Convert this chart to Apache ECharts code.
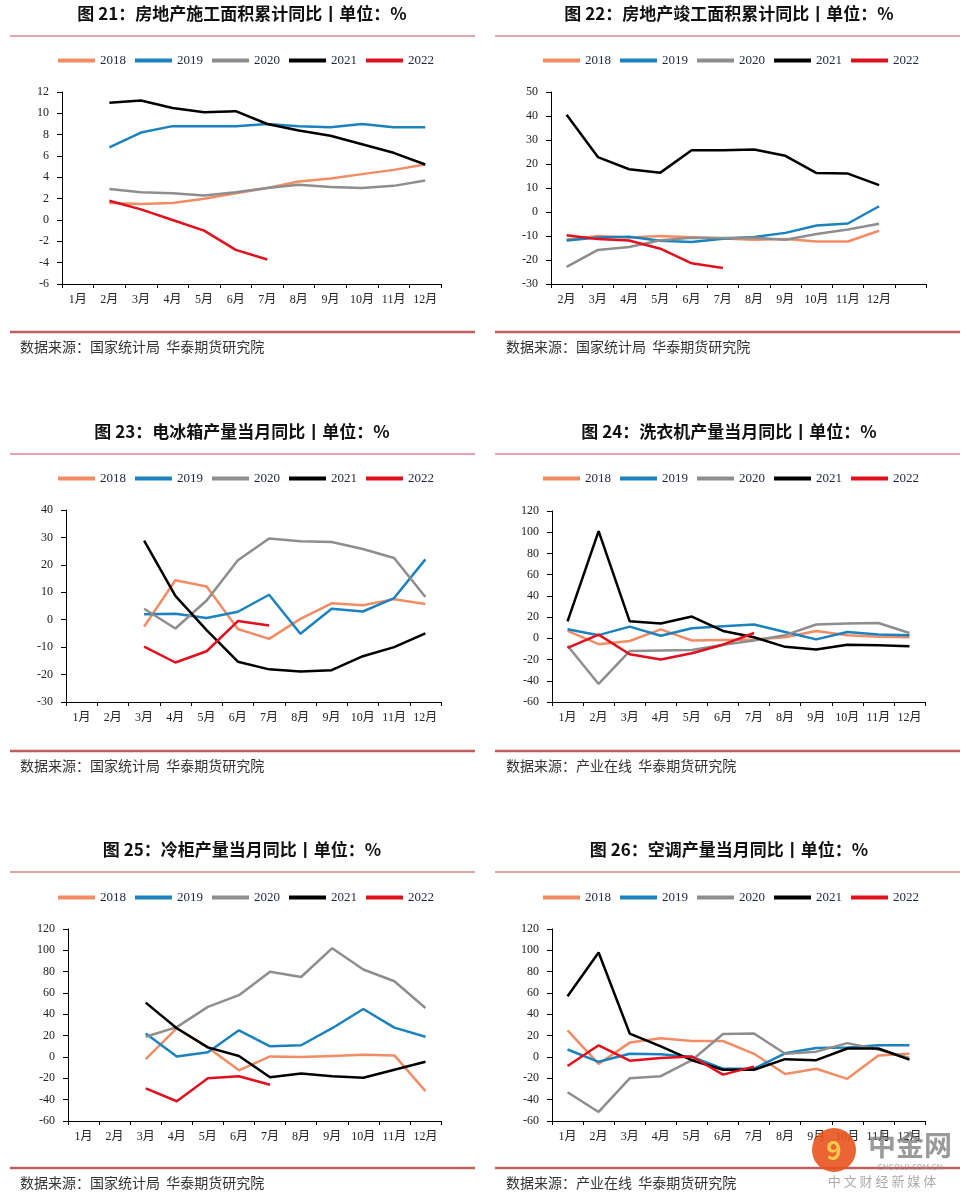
<!DOCTYPE html>
<html>
<head>
<meta charset="utf-8">
<script src="https://cdn.jsdelivr.net/npm/echarts@6/dist/echarts.min.js"></script>
<style>
  html, body { margin: 0; padding: 0; background: #fff; }
  #main { width: 968px; height: 1199px; }
</style>
</head>
<body>
<div id="main"></div>
<script>
// category labels
const months = ['1月', '2月', '3月', '4月', '5月', '6月', '7月', '8月', '9月', '10月', '11月', '12月']
const monthsFeb = ['2月', '3月', '4月', '5月', '6月', '7月', '8月', '9月', '10月', '11月', '12月', '']
const years = ['2018', '2019', '2020', '2021', '2022']

// 图21 房地产施工面积累计同比
const fig21_2018 = [null, 1.6, 1.5, 1.6, 2.0, 2.5, 3.0, 3.6, 3.9, 4.3, 4.7, 5.2]
const fig21_2019 = [null, 6.8, 8.2, 8.8, 8.8, 8.8, 9.0, 8.8, 8.7, 9.0, 8.7, 8.7]
const fig21_2020 = [null, 2.9, 2.6, 2.5, 2.3, 2.6, 3.0, 3.3, 3.1, 3.0, 3.2, 3.7]
const fig21_2021 = [null, 11.0, 11.2, 10.5, 10.1, 10.2, 9.0, 8.4, 7.9, 7.1, 6.3, 5.2]
const fig21_2022 = [null, 1.8, 1.0, 0.0, -1.0, -2.8, -3.7]

// 图22 房地产竣工面积累计同比 (2月起)
const fig22_2018 = [-11.5, -10.0, -10.6, -10.0, -10.5, -11.0, -11.6, -11.3, -12.3, -12.3, -7.8]
const fig22_2019 = [-11.9, -10.6, -10.3, -12.0, -12.5, -11.1, -10.4, -8.7, -5.6, -4.8, 2.4]
const fig22_2020 = [-22.9, -15.8, -14.6, -11.8, -10.7, -10.8, -10.7, -11.6, -9.2, -7.3, -4.9]
const fig22_2021 = [40.5, 22.9, 17.8, 16.4, 25.7, 25.7, 26.0, 23.4, 16.2, 16.0, 11.2]
const fig22_2022 = [-9.7, -11.3, -11.9, -15.3, -21.4, -23.3]

// 图23 电冰箱产量当月同比
const fig23_2018 = [null, null, -2.5, 14.4, 12.1, -3.4, -7.0, 0.3, 6.0, 5.3, 7.5, 5.7]
const fig23_2019 = [null, null, 2.0, 2.2, 0.6, 2.9, 9.1, -5.1, 4.0, 3.0, 7.9, 22.0]
const fig23_2020 = [null, null, 4.0, -3.2, 7.0, 21.7, 29.6, 28.6, 28.3, 25.8, 22.5, 8.3]
const fig23_2021 = [null, null, 28.8, 8.7, -3.8, -15.3, -18.1, -18.9, -18.4, -13.3, -10.0, -5.0]
const fig23_2022 = [null, null, -9.8, -15.6, -11.5, -0.5, -2.1]

// 图24 洗衣机产量当月同比
const fig24_2018 = [7, -5.5, -2.5, 8.5, -2, -1.5, -1, 1, 7, 3, 1.5, 1]
const fig24_2019 = [8.5, 3, 11, 2.5, 9.5, 11.5, 13, 6, -1, 6, 3.5, 3]
const fig24_2020 = [-7, -43, -12, -11.5, -11, -6, -2, 3, 13, 14, 14.5, 5]
const fig24_2021 = [16, 101, 16, 14, 20.5, 7, 1, -8, -10.5, -6, -6.5, -7.5]
const fig24_2022 = [-9, 3.5, -15, -20, -14, -6, 5]

// 图25 冷柜产量当月同比
const fig25_2018 = [null, null, -2, 27, 9, -12.5, 0.5, 0, 1, 2, 1.5, -32]
const fig25_2019 = [null, null, 22, 0.5, 4.5, 25, 10, 11, 27, 45, 27.5, 19]
const fig25_2020 = [null, null, 19, 28, 47, 58, 80, 75, 102, 82, 71, 46]
const fig25_2021 = [null, null, 51, 27, 9, 1, -19, -15.5, -18, -19.5, -12, -4.5]
const fig25_2022 = [null, null, -29.5, -41.5, -20, -18, -26]

// 图26 空调产量当月同比
const fig26_2018 = [25, -6.5, 13.5, 17.5, 15, 15, 3, -16, -11, -20.5, 1.5, 3]
const fig26_2019 = [7, -4.5, 3, 2.5, 0, -11, -11, 3.5, 8.5, 9, 11, 11]
const fig26_2020 = [-33, -51.5, -20, -18, -3, 21.5, 22, 3, 5, 13, 7, -1]
const fig26_2021 = [57, 98, 22, 10, -3, -12, -12, -2, -3, 8, 8, -2.5]
const fig26_2022 = [-8.5, 11, -3.5, -1, 0.5, -16.5, -9]

const yearColors = ['#F28C64', '#1A82BE', '#8E8E8E', '#000000', '#E0101E']
const serifFont = "'Liberation Serif', 'Noto Sans CJK SC', serif"
const cjkFont = "'Noto Sans CJK SC', sans-serif"

// layout of the 2x3 panels
const cols = [
  { x0: 10, x1: 475, cx: 242, legendX: 58, srcX: 20 },
  { x0: 495, x1: 960, cx: 729, legendX: 543, srcX: 506 }
]
const rows = [
  { titleY: 14, sepTop: 36, legendY: 60, sepBot: 332, srcY: 347 },
  { titleY: 432, sepTop: 454, legendY: 478, sepBot: 751, srcY: 766 },
  { titleY: 850, sepTop: 872, legendY: 897, sepBot: 1168, srcY: 1183 }
]

const panels = [
  { col: 0, row: 0, title: '图 21：房地产施工面积累计同比丨单位：%', source: '数据来源：国家统计局  华泰期货研究院',
    cats: months, data: [fig21_2018, fig21_2019, fig21_2020, fig21_2021, fig21_2022],
    yMin: -6, yMax: 12, yStep: 2, grid: { left: 62, top: 92, width: 379, height: 192 } },
  { col: 1, row: 0, title: '图 22：房地产竣工面积累计同比丨单位：%', source: '数据来源：国家统计局  华泰期货研究院',
    cats: monthsFeb, data: [fig22_2018, fig22_2019, fig22_2020, fig22_2021, fig22_2022],
    yMin: -30, yMax: 50, yStep: 10, grid: { left: 551, top: 92, width: 375, height: 192 } },
  { col: 0, row: 1, title: '图 23：电冰箱产量当月同比丨单位：%', source: '数据来源：国家统计局  华泰期货研究院',
    cats: months, data: [fig23_2018, fig23_2019, fig23_2020, fig23_2021, fig23_2022],
    yMin: -30, yMax: 40, yStep: 10, grid: { left: 66, top: 510, width: 375, height: 192 } },
  { col: 1, row: 1, title: '图 24：洗衣机产量当月同比丨单位：%', source: '数据来源：产业在线  华泰期货研究院',
    cats: months, data: [fig24_2018, fig24_2019, fig24_2020, fig24_2021, fig24_2022],
    yMin: -60, yMax: 120, yStep: 20, grid: { left: 552, top: 511, width: 373, height: 191 } },
  { col: 0, row: 2, title: '图 25：冷柜产量当月同比丨单位：%', source: '数据来源：国家统计局  华泰期货研究院',
    cats: months, data: [fig25_2018, fig25_2019, fig25_2020, fig25_2021, fig25_2022],
    yMin: -60, yMax: 120, yStep: 20, grid: { left: 68, top: 929, width: 373, height: 192 } },
  { col: 1, row: 2, title: '图 26：空调产量当月同比丨单位：%', source: '数据来源：产业在线  华泰期货研究院',
    cats: months, data: [fig26_2018, fig26_2019, fig26_2020, fig26_2021, fig26_2022],
    yMin: -60, yMax: 120, yStep: 20, grid: { left: 552, top: 929, width: 373, height: 192 } }
]

const grid = [], xAxis = [], yAxis = [], series = [], legend = [], graphic = []

panels.forEach((p, i) => {
  const c = cols[p.col]
  const r = rows[p.row]
  grid.push(Object.assign({ containLabel: false }, p.grid))

  // labels sit at the bottom of the plot
  xAxis.push({
    type: 'category', gridIndex: i, data: p.cats, position: 'bottom',
    axisLine: { show: false }, axisTick: { show: false }, splitLine: { show: false },
    axisLabel: { interval: 0, hideOverlap: false, margin: 10, fontFamily: serifFont, fontSize: 12, color: '#222' }
  })
  // the zero line with its ticks
  xAxis.push({
    type: 'category', gridIndex: i, data: p.cats, position: 'bottom',
    axisLine: { onZero: true, lineStyle: { color: '#000', width: 1 } },
    axisTick: { show: true, interval: 0, length: 4, lineStyle: { color: '#000' } },
    axisLabel: { show: false }, splitLine: { show: false }
  })
  yAxis.push({
    type: 'value', gridIndex: i, min: p.yMin, max: p.yMax, interval: p.yStep,
    axisLine: { show: true, lineStyle: { color: '#000', width: 1 } },
    axisTick: { show: true, length: 5, lineStyle: { color: '#000' } },
    splitLine: { show: false },
    axisLabel: { margin: 13, fontFamily: serifFont, fontSize: 12, color: '#222' }
  })

  p.data.forEach((vals, k) => {
    series.push({
      name: years[k], type: 'line', xAxisIndex: i * 2, yAxisIndex: i,
      data: vals, symbol: 'none', connectNulls: false,
      lineStyle: { color: yearColors[k], width: 2.5 },
      itemStyle: { color: yearColors[k] }, animation: false
    })
  })

  legend.push({
    data: years, left: c.legendX, top: r.legendY - 6, padding: 0, icon: 'rect',
    itemWidth: 37, itemHeight: 4, itemGap: 9, selectedMode: false,
    textStyle: { fontFamily: serifFont, fontSize: 13, color: '#1c2541' }
  })

  graphic.push({
    type: 'text', x: c.cx, y: r.titleY,
    style: { text: p.title, font: 'bold 17px ' + cjkFont, fill: '#111', textAlign: 'center', textVerticalAlign: 'middle' }
  })
  graphic.push({
    type: 'line', shape: { x1: c.x0, y1: r.sepTop, x2: c.x1, y2: r.sepTop },
    style: { stroke: '#d58a8a', lineWidth: 1.5 }
  })
  graphic.push({
    type: 'line', shape: { x1: c.x0, y1: r.sepBot, x2: c.x1, y2: r.sepBot },
    style: { stroke: '#c0605e', lineWidth: 2.5 }
  })
  graphic.push({
    type: 'text', x: c.srcX, y: r.srcY,
    style: { text: p.source, font: '14px ' + cjkFont, fill: '#333', textAlign: 'left', textVerticalAlign: 'middle' }
  })
})

// watermark in the bottom right corner
graphic.push(
  { type: 'circle', shape: { cx: 834, cy: 1150, r: 22 }, style: { fill: '#e8531e', opacity: 0.9 }, z: 100 },
  { type: 'text', x: 834, y: 1150, z: 101, style: { text: '9', font: 'bold 26px ' + cjkFont, fill: '#f6c94a', textAlign: 'center', textVerticalAlign: 'middle' } },
  { type: 'text', x: 910, y: 1145, z: 100, style: { text: '中金网', font: 'bold 28px ' + cjkFont, fill: 'rgba(120,120,120,0.75)', textAlign: 'center', textVerticalAlign: 'middle' } },
  { type: 'text', x: 910, y: 1167, z: 100, style: { text: 'CNGOLD.COM.CN', font: '8px ' + cjkFont, fill: 'rgba(150,150,150,0.8)', textAlign: 'center', textVerticalAlign: 'middle' } },
  { type: 'text', x: 882, y: 1181, z: 100, style: { text: '中 文 财 经 新 媒 体', font: '13px ' + cjkFont, fill: 'rgba(150,150,150,0.8)', textAlign: 'center', textVerticalAlign: 'middle' } }
)

const chart = echarts.init(document.getElementById('main'))
chart.setOption({
  backgroundColor: '#fff',
  animation: false,
  grid, xAxis, yAxis, series, legend, graphic
})
window.addEventListener('resize', () => chart.resize())
</script>
</body>
</html>
